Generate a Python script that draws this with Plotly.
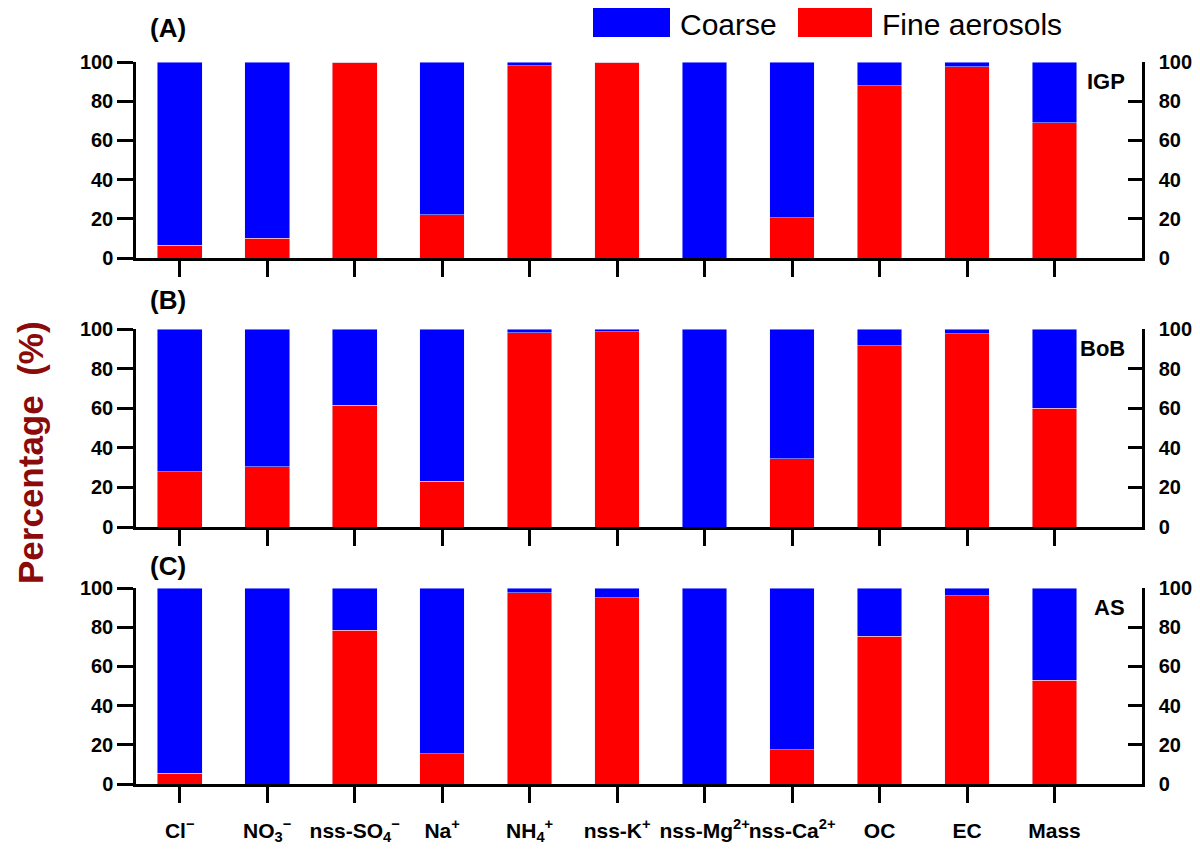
'''Coarse vs fine aerosol fractions for IGP, BoB and AS (stacked bars)'''
import plotly.graph_objects as go

# species on the x axis (plain names + rich tick labels)
species = ["Cl", "NO3", "nss-SO4", "Na", "NH4", "nss-K", "nss-Mg", "nss-Ca", "OC", "EC", "Mass"]
species_labels = [
    "Cl<sup>−</sup>", "NO<sub>3</sub><sup>−</sup>", "nss-SO<sub>4</sub><sup>−</sup>",
    "Na<sup>+</sup>", "NH<sub>4</sub><sup>+</sup>", "nss-K<sup>+</sup>",
    "nss-Mg<sup>2+</sup>", "nss-Ca<sup>2+</sup>", "OC", "EC", "Mass",
]

# fine fraction (%) per region
fine_igp = [6.5, 10, 100, 22, 98, 100, 0, 20.5, 88, 97.5, 69]
fine_bob = [28, 30.5, 61.5, 23, 98, 98.5, 0, 34.5, 91.5, 97.5, 60]
fine_as = [5.5, 0, 78.5, 15.5, 97.5, 95, 0, 17.5, 75.5, 96, 53]

# coarse fraction (%) per region
coarse_igp = [93.5, 90, 0, 78, 2, 0, 100, 79.5, 12, 2.5, 31]
coarse_bob = [72, 69.5, 38.5, 77, 2, 1.5, 100, 65.5, 8.5, 2.5, 40]
coarse_as = [94.5, 100, 21.5, 84.5, 2.5, 5, 100, 82.5, 24.5, 4, 47]

regions = ["IGP", "BoB", "AS"]
panel_tags = ["(A)", "(B)", "(C)"]
y_ticks = [0, 20, 40, 60, 80, 100]

BLUE = "#0000FF"
RED = "#FF0000"
FONT = "Liberation Sans, Arial, sans-serif"

# page geometry (window pixels); the page body adds an 8px margin
OFF = 8
W, H = 1200 - OFF, 854 - OFF
ML, MR, MT, MB = 136 - OFF, 58, 62 - OFF, 70
PW, PH = W - ML - MR, H - MT - MB


def px(x):
    # window pixel -> paper x
    return (x - OFF - ML) / PW


def py(y):
    # window pixel -> paper y
    return (H - MB - (y - OFF)) / PH


# top/bottom window rows of each panel
panel_px = [(62, 258), (329, 527), (588, 784)]
tag_y = [28, 300, 566]

fig = go.Figure()
fine_all = [fine_igp, fine_bob, fine_as]
coarse_all = [coarse_igp, coarse_bob, coarse_as]

for i in range(3):
    n = "" if i == 0 else str(i + 1)
    fig.add_trace(go.Bar(x=species, y=fine_all[i], name="Fine aerosols", marker_color=RED,
                         width=0.51, xaxis="x" + n, yaxis="y" + n, showlegend=False))
    fig.add_trace(go.Bar(x=species, y=coarse_all[i], name="Coarse", marker_color=BLUE,
                         width=0.51, xaxis="x" + n, yaxis="y" + n, showlegend=False))
    # empty trace so the right-hand axis copy gets drawn
    fig.add_trace(go.Scatter(x=[], y=[], xaxis="x" + n, yaxis="y" + str(i + 4),
                             showlegend=False, hoverinfo="skip"))

layout = dict(
    width=W, height=H, barmode="stack",
    margin=dict(l=ML, r=MR, t=MT, b=MB, autoexpand=False),
    plot_bgcolor="white", paper_bgcolor="white",
    font=dict(family=FONT, color="black"),
)

axis_common = dict(tickwidth=2.5, tickcolor="black", showline=True, linewidth=2.5,
                   linecolor="black", showgrid=False, zeroline=False, automargin=False)

for i in range(3):
    n = "" if i == 0 else str(i + 1)
    top, bot = panel_px[i]
    dom = [py(bot), py(top)]
    layout["xaxis" + n] = dict(
        type="category", range=[-0.5, 11], domain=[0, 1], anchor="y" + n,
        tickvals=species, ticktext=species_labels, showticklabels=(i == 2),
        tickangle=0, ticks="outside", ticklen=16, ticklabelstandoff=10,
        tickfont=dict(size=21, family=FONT, weight="bold"),
        **axis_common,
    )
    layout["yaxis" + n] = dict(
        range=[0, 100], domain=dom, anchor="x" + n, tickvals=y_ticks,
        ticks="outside", ticklen=16,
        tickfont=dict(size=20, family=FONT, weight="bold"),
        **axis_common,
    )
    # right-hand copy of the y axis
    layout["yaxis" + str(i + 4)] = dict(
        range=[0, 100], domain=dom, anchor="x" + n, overlaying="y" + n, side="right",
        tickvals=y_ticks, ticks="inside", ticklen=14, ticklabelstandoff=10,
        tickfont=dict(size=20, family=FONT, weight="bold"),
        **axis_common,
    )

fig.update_layout(**layout)

annotations = []
for i in range(3):
    n = "" if i == 0 else str(i + 1)
    annotations.append(dict(
        text="<b>" + panel_tags[i] + "</b>", xref="paper", yref="paper",
        x=px(168), y=py(tag_y[i]), xanchor="center", yanchor="middle",
        showarrow=False, font=dict(size=26, family=FONT),
    ))
    annotations.append(dict(
        text="<b>" + regions[i] + "</b>", xref="x" + n + " domain", yref="y" + n,
        x=0.985, y=90, xanchor="right", yanchor="middle",
        showarrow=False, font=dict(size=22, family=FONT),
    ))

annotations.append(dict(
    text="<b>Percentage  (%)</b>", xref="paper", yref="paper", textangle=-90,
    x=px(30), y=py(453), xanchor="center", yanchor="middle", showarrow=False,
    font=dict(size=35, family=FONT, color="#8B0A0A"),
))

# legend drawn as large colour patches
legend_items = [("Coarse", BLUE, 593, 670, 678), ("Fine aerosols", RED, 798, 872, 880)]
shapes = []
for label, color, x0, x1, xt in legend_items:
    shapes.append(dict(type="rect", xref="paper", yref="paper",
                       x0=px(x0), x1=px(x1), y0=py(37), y1=py(8),
                       fillcolor=color, line=dict(width=0)))
    annotations.append(dict(
        text=label, xref="paper", yref="paper", x=px(xt), y=py(25),
        xanchor="left", yanchor="middle", showarrow=False,
        font=dict(size=30, family=FONT),
    ))

fig.update_layout(annotations=annotations, shapes=shapes)

fig.write_html("out.html")
